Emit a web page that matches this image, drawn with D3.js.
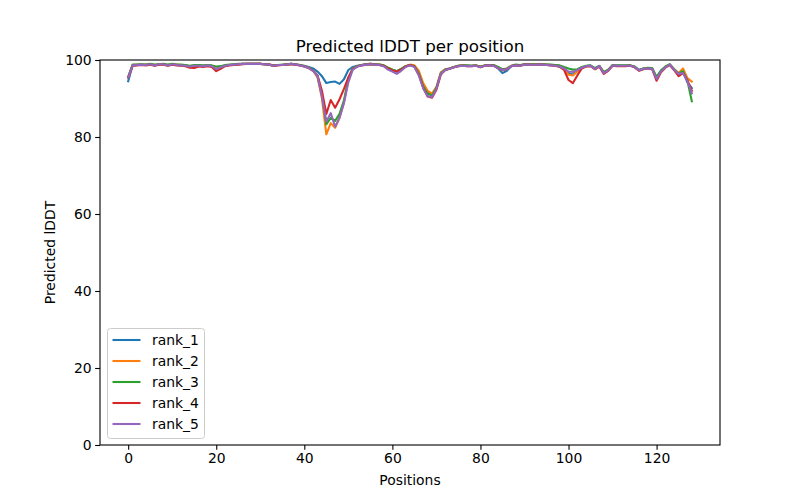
<!DOCTYPE html>
<html>
<head>
<meta charset="utf-8">
<script src="https://cdn.jsdelivr.net/npm/d3@7"></script>
<style>
  body { margin: 0; background: #fff; }
  svg { font-family: "DejaVu Sans", sans-serif; }
</style>
</head>
<body>
<div id="container"></div>
<script>
"use strict";

// SECTION: data
const seriesNames = ["rank_1", "rank_2", "rank_3", "rank_4", "rank_5"];
const seriesColors = ["#1f77b4", "#ff7f0e", "#2ca02c", "#d62728", "#9467bd"];
const xTicks = [0, 20, 40, 60, 80, 100, 120];
const yTicks = [0, 20, 40, 60, 80, 100];

const rank_1 = [
  94.5, 98.6, 98.7, 98.8, 98.7, 98.9, 98.6, 98.9, 98.9, 98.6,
  98.9, 98.7, 98.6, 98.6, 98.3, 98.5, 98.6, 98.4, 98.6, 98.4,
  97.7, 98.1, 98.5, 98.7, 98.8, 98.9, 99.0, 99.0, 99.0, 99.0,
  99.0, 98.9, 98.8, 98.5, 98.7, 98.7, 98.8, 99.0, 98.8, 98.7,
  98.5, 98.2, 97.8, 97.0, 95.8, 94.0, 94.3, 94.4, 93.8, 95.0,
  97.4, 98.2, 98.5, 98.7, 98.9, 99.0, 98.9, 98.8, 98.6, 97.9,
  97.5, 97.1, 97.7, 98.3, 98.7, 98.4, 96.8, 93.5, 91.5, 91.0,
  92.8, 96.5, 97.5, 97.8, 98.2, 98.5, 98.6, 98.5, 98.5, 98.6,
  98.2, 98.6, 98.7, 98.6, 97.8, 96.6, 97.2, 98.4, 98.7, 98.6,
  98.9, 98.9, 98.8, 98.9, 98.9, 98.8, 98.7, 98.6, 98.4, 97.8,
  96.6, 96.2, 97.2, 98.0, 98.4, 98.5, 97.8, 98.4, 96.6, 97.3,
  98.6, 98.5, 98.5, 98.5, 98.6, 98.3, 97.4, 97.8, 97.9, 97.8,
  95.4, 97.2, 98.2, 98.8, 97.5, 96.4, 97.0, 94.2, 92.7
];
const rank_2 = [
  95.5, 98.7, 98.8, 98.8, 98.8, 98.9, 98.7, 98.9, 98.9, 98.7,
  98.9, 98.8, 98.7, 98.6, 98.4, 98.5, 98.6, 98.5, 98.6, 98.5,
  97.8, 98.2, 98.6, 98.7, 98.8, 98.9, 99.0, 99.0, 99.0, 99.0,
  99.0, 98.9, 98.8, 98.6, 98.7, 98.7, 98.8, 99.0, 98.8, 98.7,
  98.4, 98.0, 97.2, 95.5, 90.0, 80.7, 83.6, 82.4, 85.0, 89.0,
  95.0, 97.8, 98.4, 98.7, 98.9, 99.0, 98.9, 98.8, 98.6, 98.0,
  97.5, 97.0, 97.6, 98.4, 98.8, 98.6, 97.2, 94.0, 92.0, 91.3,
  93.0, 96.8, 97.6, 97.8, 98.2, 98.5, 98.6, 98.5, 98.5, 98.6,
  98.3, 98.6, 98.7, 98.6, 98.1, 97.3, 97.7, 98.5, 98.7, 98.6,
  98.9, 98.9, 98.8, 98.9, 98.9, 98.8, 98.7, 98.6, 98.4, 97.6,
  96.2, 96.0, 97.0, 98.0, 98.4, 98.5, 97.6, 98.4, 96.8, 97.4,
  98.6, 98.5, 98.5, 98.5, 98.6, 98.2, 97.3, 97.7, 97.9, 97.7,
  95.2, 97.0, 98.2, 98.8, 97.6, 96.6, 97.8, 95.3, 94.4
];
const rank_3 = [
  95.6, 98.8, 98.8, 98.9, 98.8, 99.0, 98.8, 98.9, 99.0, 98.8,
  99.0, 98.8, 98.8, 98.7, 98.5, 98.7, 98.7, 98.6, 98.7, 98.6,
  98.3, 98.4, 98.7, 98.8, 98.9, 99.0, 99.0, 99.0, 99.0, 99.0,
  99.0, 98.9, 98.8, 98.6, 98.7, 98.8, 98.9, 99.0, 98.9, 98.7,
  98.4, 98.0, 97.3, 95.8, 91.0, 83.3, 85.0, 84.2, 86.0, 89.5,
  95.2, 97.8, 98.4, 98.7, 98.9, 99.0, 98.9, 98.8, 98.6, 98.0,
  97.5, 97.1, 97.7, 98.4, 98.7, 98.4, 96.5, 93.2, 91.2, 90.8,
  92.8, 96.6, 97.5, 97.8, 98.2, 98.5, 98.6, 98.6, 98.5, 98.6,
  98.3, 98.6, 98.7, 98.7, 98.2, 97.6, 97.8, 98.5, 98.8, 98.7,
  98.9, 98.9, 98.9, 98.9, 98.9, 98.8, 98.8, 98.7, 98.6, 98.2,
  97.8, 97.5, 97.6, 98.2, 98.5, 98.6, 97.9, 98.5, 96.9, 97.5,
  98.7, 98.6, 98.6, 98.6, 98.6, 98.3, 97.4, 97.8, 98.0, 97.9,
  95.6, 97.3, 98.3, 98.9, 97.6, 96.5, 97.1, 94.6, 89.3
];
const rank_4 = [
  95.4, 98.5, 98.6, 98.7, 98.6, 98.8, 98.5, 98.8, 98.8, 98.5,
  98.8, 98.6, 98.5, 98.4, 98.0, 97.9, 98.3, 98.2, 98.4, 98.2,
  97.1, 97.7, 98.4, 98.6, 98.7, 98.8, 98.9, 99.0, 99.0, 99.0,
  99.0, 98.9, 98.8, 98.5, 98.6, 98.7, 98.8, 98.9, 98.8, 98.6,
  98.3, 97.9, 97.2, 96.0, 92.0, 86.0, 89.6, 87.6, 89.8, 92.5,
  95.5, 97.6, 98.3, 98.6, 98.8, 98.9, 98.8, 98.7, 98.5, 97.8,
  97.3, 97.0, 97.5, 98.3, 98.7, 98.3, 96.2, 92.8, 90.5, 90.2,
  92.3, 96.2, 97.4, 97.7, 98.1, 98.4, 98.5, 98.4, 98.4, 98.5,
  98.1, 98.5, 98.6, 98.5, 97.9, 97.4, 97.6, 98.4, 98.6, 98.5,
  98.8, 98.8, 98.7, 98.8, 98.8, 98.7, 98.6, 98.5, 98.2, 97.4,
  94.8, 94.0, 96.0, 97.8, 98.3, 98.4, 97.6, 98.3, 96.4, 97.2,
  98.5, 98.4, 98.4, 98.4, 98.5, 98.1, 97.2, 97.6, 97.8, 97.6,
  94.6, 96.8, 98.0, 98.7, 97.3, 95.8, 96.6, 94.8, 92.0
];
const rank_5 = [
  95.5, 98.6, 98.7, 98.8, 98.7, 98.9, 98.6, 98.9, 98.9, 98.6,
  98.9, 98.7, 98.6, 98.5, 98.3, 98.5, 98.5, 98.4, 98.6, 98.4,
  97.6, 98.1, 98.5, 98.7, 98.8, 98.9, 99.0, 99.0, 99.0, 99.0,
  99.0, 98.9, 98.8, 98.5, 98.7, 98.7, 98.8, 99.0, 98.8, 98.6,
  98.3, 97.9, 97.2, 95.8, 90.5, 84.0, 86.2, 82.7, 85.0, 88.8,
  94.2, 97.5, 98.3, 98.6, 98.8, 98.9, 98.8, 98.7, 98.4, 97.5,
  97.0, 96.4, 97.2, 98.2, 98.6, 98.2, 96.0, 92.6, 90.6, 90.4,
  92.5, 96.4, 97.4, 97.7, 98.1, 98.4, 98.5, 98.4, 98.4, 98.5,
  98.1, 98.5, 98.6, 98.5, 97.9, 97.4, 97.6, 98.4, 98.6, 98.5,
  98.8, 98.8, 98.7, 98.8, 98.8, 98.7, 98.6, 98.5, 98.3, 97.8,
  97.0, 96.9, 97.4, 98.0, 98.4, 98.5, 97.7, 98.4, 96.6, 97.3,
  98.6, 98.5, 98.5, 98.5, 98.5, 98.2, 97.3, 97.7, 97.8, 97.7,
  95.1, 97.0, 98.1, 98.8, 97.4, 96.4, 96.6, 94.5, 91.3
];

const seriesValues = [rank_1, rank_2, rank_3, rank_4, rank_5];

// SECTION: layout
const width = 800, height = 500;
const mLeft = 100, mRight = 720, mTop = 60, mBottom = 445;
const tickLen = 4.86;

const svg = d3.select("#container")
    .append("svg")
    .attr("width", width)
    .attr("height", height);

svg.append("rect")
    .attr("width", width)
    .attr("height", height)
    .attr("fill", "white");

// x domain with matplotlib-like 5% margins
const n = rank_1.length - 1;
const pad = n * 0.05;
const x = d3.scaleLinear()
    .domain([-pad, n + pad])
    .range([mLeft, mRight]);

const y = d3.scaleLinear()
    .domain([0, 100])
    .range([mBottom, mTop]);

// lines
const line = d3.line()
    .x((d, i) => x(i))
    .y(d => y(d));

const plot = svg.append("g");
seriesValues.forEach((vals, k) => {
  plot.append("path")
      .datum(vals)
      .attr("fill", "none")
      .attr("stroke", seriesColors[k])
      .attr("stroke-width", 2.08)
      .attr("stroke-linejoin", "round")
      .attr("stroke-linecap", "square")
      .attr("d", line);
});

// axes
const xAxis = svg.append("g")
    .attr("transform", `translate(0,${mBottom})`)
    .call(d3.axisBottom(x).tickValues(xTicks).tickSize(tickLen).tickPadding(3.5).tickFormat(d3.format("d")));

const yAxis = svg.append("g")
    .attr("transform", `translate(${mLeft},0)`)
    .call(d3.axisLeft(y).tickValues(yTicks).tickSize(tickLen).tickPadding(3.5).tickFormat(d3.format("d")));

[xAxis, yAxis].forEach(ax => {
  ax.select(".domain").remove();
  ax.selectAll(".tick line").attr("stroke", "black").attr("stroke-width", 1.1);
  ax.selectAll(".tick text")
      .attr("fill", "black")
      .style("font-size", "13.9px")
      .style("font-family", "DejaVu Sans");
});

// frame
svg.append("rect")
    .attr("x", mLeft)
    .attr("y", mTop)
    .attr("width", mRight - mLeft)
    .attr("height", mBottom - mTop)
    .attr("fill", "none")
    .attr("stroke", "black")
    .attr("stroke-width", 1.1);

// title and labels
svg.append("text")
    .attr("x", (mLeft + mRight) / 2)
    .attr("y", 52)
    .attr("text-anchor", "middle")
    .style("font-size", "16.7px")
    .text("Predicted lDDT per position");

svg.append("text")
    .attr("x", (mLeft + mRight) / 2)
    .attr("y", 485)
    .attr("text-anchor", "middle")
    .style("font-size", "13.9px")
    .text("Positions");

svg.append("text")
    .attr("transform", `translate(55,${(mTop + mBottom) / 2}) rotate(-90)`)
    .attr("text-anchor", "middle")
    .style("font-size", "13.9px")
    .text("Predicted lDDT");

// legend
const legend = svg.append("g");
legend.append("rect")
    .attr("x", 107.5)
    .attr("y", 328.5)
    .attr("width", 97)
    .attr("height", 110)
    .attr("rx", 3)
    .attr("fill", "white")
    .attr("fill-opacity", 0.8)
    .attr("stroke", "#cccccc")
    .attr("stroke-width", 1);

seriesNames.forEach((name, k) => {
  const ly = 340 + k * 21;
  legend.append("line")
      .attr("x1", 112.5).attr("x2", 140.5)
      .attr("y1", ly).attr("y2", ly)
      .attr("stroke", seriesColors[k])
      .attr("stroke-width", 2.08);
  legend.append("text")
      .attr("x", 152)
      .attr("y", ly + 5)
      .style("font-size", "13.9px")
      .text(name);
});
</script>
</body>
</html>
